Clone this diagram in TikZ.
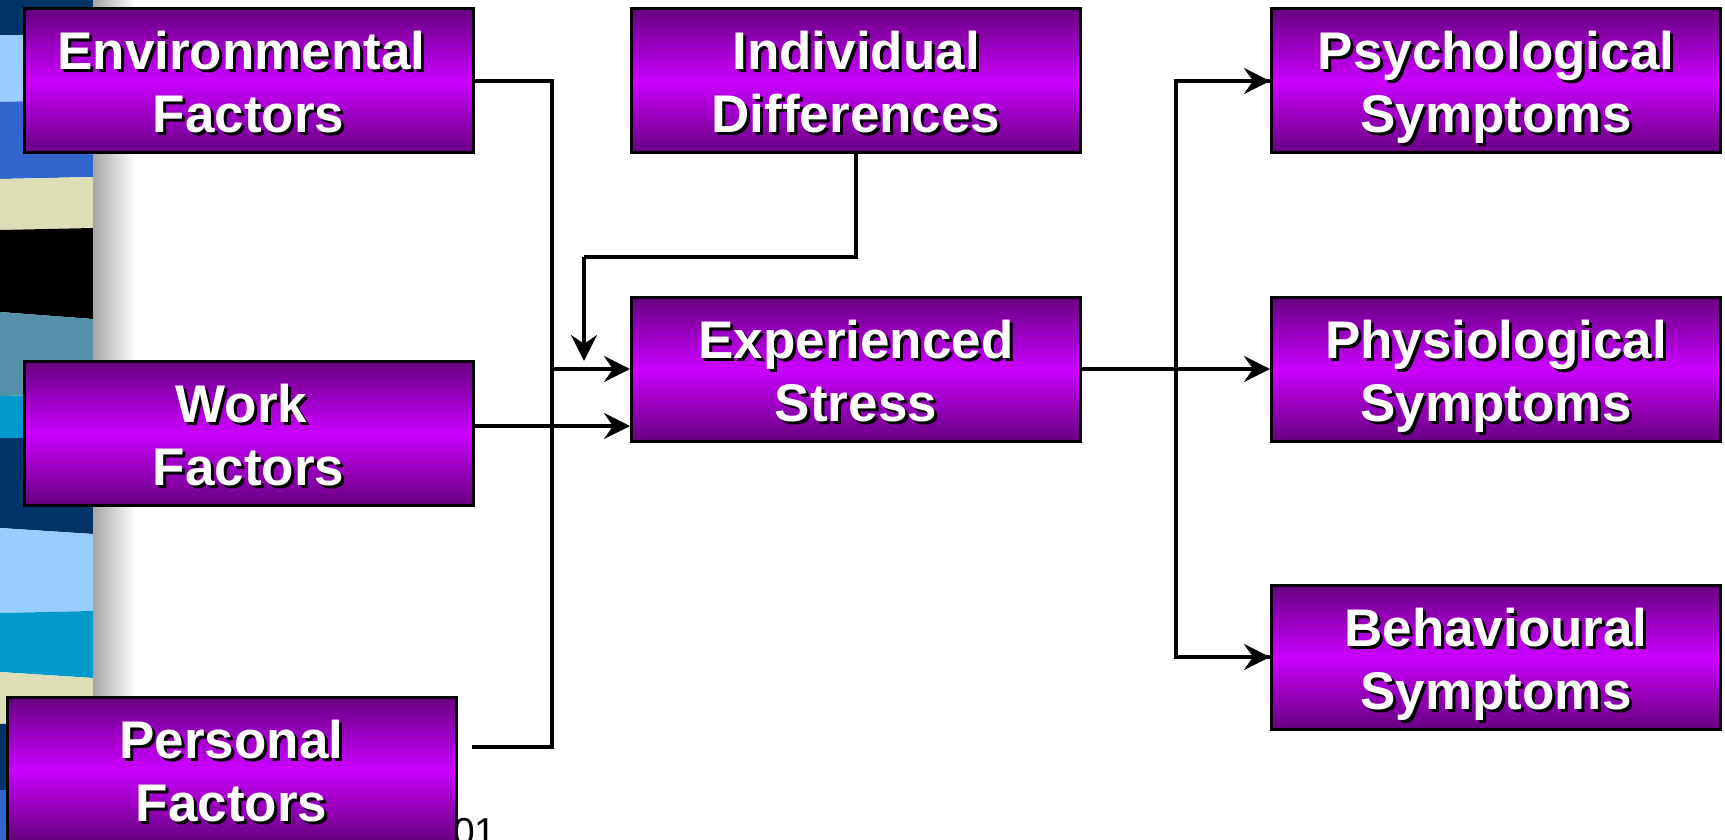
\documentclass[tikz,border=0pt]{standalone}
\usepackage{fontspec}
\setmainfont{Liberation Sans}
\newfontfamily\arialf{Liberation Sans}
\usetikzlibrary{arrows.meta}
\definecolor{navy}{HTML}{003366}
\definecolor{ltblue}{HTML}{99CCFF}
\definecolor{medblue}{HTML}{3366CC}
\definecolor{beige}{HTML}{DDDDB8}
\definecolor{tealg}{HTML}{5592AA}
\definecolor{cyanb}{HTML}{0099CC}
\definecolor{boxdark}{HTML}{66007F}
\definecolor{boxmid}{HTML}{CC00FF}
\tikzset{
  sbox/.style={rectangle, minimum width=449pt, minimum height=144pt, inner sep=0pt,
    draw=black, line width=3pt, top color=boxdark, bottom color=boxdark, middle color=boxmid},
  stxt/.style={anchor=base, inner sep=0pt, font=\arialf\fontsize{53pt}{63pt}\selectfont\bfseries},
  conn/.style={line width=3.4pt, draw=black},
  arr/.style={conn, -{Stealth[length=26pt,width=26pt,inset=9pt]}},
}
% name, cx, top, line1, line2, x-shift of line1
\newcommand\sbx[6]{%
  \node[sbox] (#1) at (#2,#3+72) {};
  \node[stxt,text=black] at (#2+#6+3,#3+61+3) {#4};
  \node[stxt,text=black] at (#2+3,#3+124+3) {#5};
  \node[stxt,text=white] at (#2+#6,#3+61) {#4};
  \node[stxt,text=white] at (#2,#3+124) {#5};
}
\begin{document}
\begin{tikzpicture}[x=1pt,y=-1pt]
\useasboundingbox (0,0) rectangle (1725,840);
\clip (0,0) rectangle (1725,840);
\fill[white] (0,0) rectangle (1725,840);
% decorative strip
\fill[navy] (0,0) -- (93,0) -- (93,37) -- (0,35) -- cycle;
\fill[ltblue] (0,35) -- (93,37) -- (93,99) -- (0,102) -- cycle;
\fill[medblue] (0,102) -- (93,99) -- (93,177) -- (0,179) -- cycle;
\fill[beige] (0,179) -- (93,177) -- (93,228) -- (0,230) -- cycle;
\fill[black] (0,230) -- (93,228) -- (93,319) -- (0,312) -- cycle;
\fill[tealg] (0,312) -- (93,319) -- (93,394) -- (0,396) -- cycle;
\fill[cyanb] (0,396) -- (93,394) -- (93,438) -- (0,438) -- cycle;
\fill[navy] (0,438) -- (93,438) -- (93,534) -- (0,528) -- cycle;
\fill[ltblue] (0,528) -- (93,534) -- (93,611) -- (0,613) -- cycle;
\fill[cyanb] (0,613) -- (93,611) -- (93,678) -- (0,672) -- cycle;
\fill[beige] (0,672) -- (93,678) -- (93,723) -- (0,724) -- cycle;
\fill[navy] (0,724) -- (93,723) -- (93,790) -- (0,790) -- cycle;
\fill[medblue] (0,790) -- (93,790) -- (93,840) -- (0,840) -- cycle;
\shade[left color=black!35, right color=white] (93,0) rectangle (135,840);
% page number fragment
\node[anchor=base west, inner sep=0pt, font=\arialf\fontsize{39pt}{44pt}\selectfont] (pg) at (453,845) {01};
% boxes
\sbx{env}{248.5}{9}{Environmental}{Factors}{-7}
\sbx{work}{248.5}{361}{Work}{Factors}{-7}
\sbx{pers}{231.5}{697}{Personal}{Factors}{0}
\sbx{ind}{856}{9}{Individual}{Differences}{0}
\sbx{exp}{856}{297}{Experienced}{Stress}{0}
\sbx{psy}{1496}{9}{Psychological}{Symptoms}{0}
\sbx{phy}{1496}{297}{Physiological}{Symptoms}{0}
\sbx{beh}{1496}{585}{Behavioural}{Symptoms}{0}
% connectors
\coordinate (pend) at (472,747);
\coordinate (j1) at (552,369);
\coordinate (wy) at (0,426);
\coordinate (iturn) at (584,257);
\coordinate (itip) at (584,361);
\coordinate (j2) at (1176,369);
\draw[conn] (env.east) -| (j1) |- (pend);
\draw[arr] (j1) -- (exp.west);
\draw[arr] (work.east |- wy) -- (exp.west |- wy);
\draw[conn] (ind.south) |- (iturn);
\draw[arr] (iturn) -- (itip);
\draw[arr] (exp.east) -- (phy.west);
\draw[conn] (j2) |- (psy.west);
\draw[arr] (j2 |- psy.west) -- (psy.west);
\draw[conn] (j2) |- (beh.west);
\draw[arr] (j2 |- beh.west) -- (beh.west);
\end{tikzpicture}
\end{document}
